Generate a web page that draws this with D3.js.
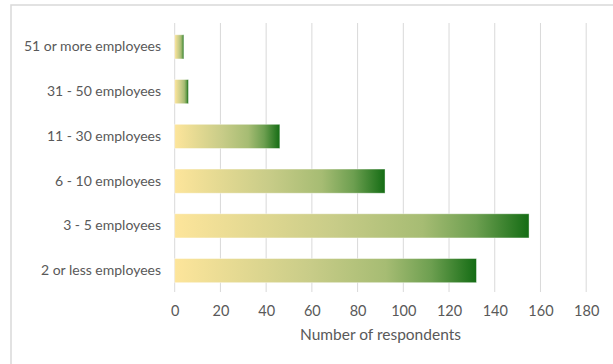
<!DOCTYPE html>
<html>
<head>
<meta charset="utf-8">
<script src="https://cdn.jsdelivr.net/npm/d3@7/dist/d3.min.js"></script>
<style>
  html, body { margin: 0; padding: 0; background: #fff; }
  svg { display: block; font-family: Lato, "Open Sans", sans-serif; }
</style>
</head>
<body>
<svg id="chart" width="613" height="364"></svg>
<script>
const categories = ["51 or more employees", "31 - 50 employees", "11 - 30 employees", "6 - 10 employees", "3 - 5 employees", "2 or less employees"];
const values = [4, 6, 46, 92, 155, 132];
const xTicks = [0, 20, 40, 60, 80, 100, 120, 140, 160, 180];
const xTitle = "Number of respondents";

const svg = d3.select("#chart");

// chart frame (cut off on right and bottom)
svg.append("rect")
  .attr("x", 11).attr("y", 5)
  .attr("width", 640).attr("height", 400)
  .attr("fill", "#fff").attr("stroke", "#d9d9d9").attr("stroke-width", 1.5);

const x = d3.scaleLinear().domain([0, 180]).range([174.7, 586.2]);
const y = d3.scaleBand().domain(categories).range([24.5, 293]).paddingInner(0.46).paddingOuter(0.23);

// gradient
const defs = svg.append("defs");
const grad = defs.append("linearGradient").attr("id", "barGrad")
  .attr("x1", "0%").attr("x2", "100%").attr("y1", "0%").attr("y2", "0%");
[[0, "#fde59b"], [0.45, "#c8cc88"], [0.7, "#a6bc73"], [0.85, "#6d9f50"], [1, "#146c14"]]
  .forEach(([o, c]) => grad.append("stop").attr("offset", o).attr("stop-color", c));

// gridlines
svg.append("g").selectAll("line").data(xTicks).join("line")
  .attr("x1", d => x(d)).attr("x2", d => x(d))
  .attr("y1", 23).attr("y2", 292)
  .attr("stroke", "#d9d9d9").attr("stroke-width", 1);

// bars
svg.append("g").selectAll("rect").data(values).join("rect")
  .attr("x", x(0))
  .attr("y", (d, i) => y(categories[i]))
  .attr("width", d => x(d) - x(0))
  .attr("height", y.bandwidth())
  .attr("fill", "url(#barGrad)")
  .attr("stroke", "rgba(255,255,255,0.5)")
  .attr("stroke-width", 0.8);

// y axis labels
const yAxis = d3.axisLeft(y).tickSize(0).tickPadding(0);
const gy = svg.append("g").attr("transform", "translate(161,0)").call(yAxis);
gy.select(".domain").remove();
gy.selectAll("text").attr("fill", "#595959").style("font-size", "14px")
  .style("font-family", "Lato, 'Open Sans', sans-serif");

// x axis labels
const xAxis = d3.axisBottom(x).tickValues(xTicks).tickSize(0).tickPadding(0).tickFormat(d3.format("d"));
const gx = svg.append("g").attr("transform", "translate(0,306)").call(xAxis);
gx.select(".domain").remove();
gx.selectAll("text").attr("fill", "#595959").style("font-size", "14.5px")
  .style("font-family", "Lato, 'Open Sans', sans-serif");

// x title
svg.append("text")
  .attr("x", (x(0) + x(180)) / 2).attr("y", 340)
  .attr("text-anchor", "middle")
  .attr("fill", "#595959").style("font-size", "15.5px")
  .text(xTitle);
</script>
</body>
</html>
